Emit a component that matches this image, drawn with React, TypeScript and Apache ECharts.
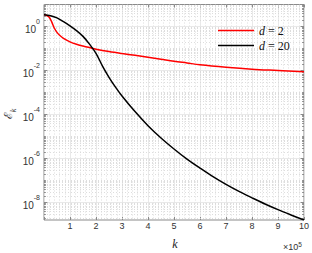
import React, { useEffect, useRef } from "react";
import * as echarts from "echarts";

// k in units of 1e5
const kBlack = [0, 0.25, 0.5, 0.75, 1, 1.25, 1.5, 1.75, 2, 2.25, 2.5, 2.75, 3, 3.5, 4, 4.5, 5, 5.5, 6, 6.5, 7, 7.5, 8, 8.5, 9, 9.5, 10];
const epsD20 = [3.39, 3.09, 2.45, 1.66, 1.07, 0.646, 0.355, 0.158, 0.0603, 0.0158, 0.0049, 0.00174, 6.9e-4, 1.35e-4, 3.09e-5, 8.5e-6, 2.69e-6, 9.3e-7, 3.63e-7, 1.48e-7, 6.6e-8, 3.16e-8, 1.62e-8, 8.5e-9, 4.68e-9, 2.69e-9, 1.58e-9];
const kRed = [0, 0.1, 0.2, 0.3, 0.4, 0.5, 0.6, 0.75, 1, 1.25, 1.5, 1.75, 2, 2.5, 3, 3.5, 4, 4.5, 5, 5.5, 6, 7, 8, 9, 10];
const epsD2 = [3.39, 3.16, 2.63, 1.58, 0.83, 0.537, 0.398, 0.288, 0.2, 0.155, 0.129, 0.11, 0.0933, 0.0724, 0.0589, 0.049, 0.0398, 0.0324, 0.0263, 0.0219, 0.0182, 0.0141, 0.0115, 0.01, 0.0087];
const seriesNames = ["d = 2", "d = 20"];
const xTicks = [1, 2, 3, 4, 5, 6, 7, 8, 9, 10];
const yMajor = [1, 1e-2, 1e-4, 1e-6, 1e-8];
const decades = [-9, -8, -7, -6, -5, -4, -3, -2, -1, 0];
const yMin = 1.585e-9;
const yMax = 10;

export default function App() {
  const ref = useRef<HTMLDivElement>(null);
  useEffect(() => {
    if (!ref.current) return;
    const chart = echarts.init(ref.current, null, { renderer: "svg" });

    const minorVals: number[] = [];
    decades.forEach((d) => {
      for (let m = 1; m <= 9; m++) {
        const v = m * Math.pow(10, d);
        if (v < yMin || v > yMax) continue;
        const isMajor = yMajor.some((x) => Math.abs(Math.log10(x) - Math.log10(v)) < 1e-6);
        if (!isMajor) minorVals.push(v);
      }
    });

    const gridLines: any[] = [];
    minorVals.forEach((v) =>
      gridLines.push({ yAxis: v, lineStyle: { color: "#d4d4d4", type: [1, 2], width: 0.8 } })
    );
    yMajor.forEach((v) =>
      gridLines.push({ yAxis: v, lineStyle: { color: "#e3e3e3", type: "solid", width: 0.8 } })
    );
    const tickStyle = { color: "#8a8a8a", width: 1, type: "solid" };
    const tk = (v: number, len: number) => {
      gridLines.push([{ coord: [0, v], lineStyle: tickStyle }, { coord: [len, v] }]);
      gridLines.push([{ coord: [10 - len, v], lineStyle: tickStyle }, { coord: [10, v] }]);
    };
    minorVals.forEach((v) => tk(v, 0.07));
    yMajor.forEach((v) => tk(v, 0.13));

    const option: any = {
      animation: false,
      grid: { left: 44, right: 7, top: 4.5, bottom: 33, show: true, borderColor: "#8a8a8a", borderWidth: 1, backgroundColor: "transparent" },
      legend: {
        data: seriesNames,
        orient: "vertical",
        left: 213,
        top: 18,
        itemWidth: 36,
        itemHeight: 1.5,
        itemGap: 0,
        icon: "rect",
        formatter: (n: string) => "{i|d} " + n.slice(2),
        textStyle: {
          fontFamily: "Liberation Serif",
          fontSize: 12,
          color: "#111",
          lineHeight: 15,
          rich: { i: { fontFamily: "Liberation Serif", fontStyle: "italic", fontSize: 12, color: "#111", lineHeight: 15 } },
        },
      },
      xAxis: [
        {
          type: "value",
          min: 0,
          max: 10,
          interval: 1,
          axisLine: { show: false },
          axisTick: { show: true, inside: true, length: 3, lineStyle: { color: "#8a8a8a" } },
          axisLabel: {
            formatter: (v: number) => (xTicks.includes(v) ? String(v) : ""),
            fontFamily: "Liberation Sans",
            fontSize: 9,
            color: "#333",
            margin: 1,
          },
          splitLine: { show: true, lineStyle: { color: "#e3e3e3", width: 0.8 } },
          minorTick: { show: false, splitNumber: 5 },
          minorSplitLine: { show: true, lineStyle: { color: "#d4d4d4", type: [1, 2], width: 0.8 } },
        },
        {
          type: "value",
          position: "top",
          min: 0,
          max: 10,
          interval: 1,
          axisLine: { show: false },
          axisTick: { show: true, inside: true, length: 3, lineStyle: { color: "#8a8a8a" } },
          axisLabel: { show: false },
          splitLine: { show: false },
        },
      ],
      yAxis: {
        type: "log",
        logBase: 10,
        min: yMin,
        max: yMax,
        axisLine: { show: false },
        axisTick: { show: false },
        splitLine: { show: false },
        axisLabel: {
          margin: 4,
          formatter: (v: number) => {
            const e = Math.log10(v);
            const r = Math.round(e);
            if (Math.abs(e - r) > 1e-6 || r % 2 !== 0 || r > 0) return "";
            return "{b|10}{s|" + r + "}";
          },
          rich: {
            b: { fontFamily: "Liberation Sans", fontSize: 10, color: "#333", lineHeight: 16, verticalAlign: "bottom" },
            s: { fontFamily: "Liberation Sans", fontSize: 7, color: "#333", lineHeight: 8, verticalAlign: "top" },
          },
        },
      },
      graphic: [
        {
          type: "text",
          x: 10,
          y: 114,
          rotation: Math.PI / 2,
          style: {
            text: "{e|ℰ}{k|k}",
            rich: {
              e: { fontFamily: "DejaVu Serif", fontSize: 11, fill: "#222", lineHeight: 14, verticalAlign: "top" },
              k: { fontFamily: "Liberation Serif", fontStyle: "italic", fontSize: 8, fill: "#222", lineHeight: 10, verticalAlign: "bottom" },
            },
            align: "center",
            verticalAlign: "middle",
          },
        },
        {
          type: "text",
          x: 175,
          y: 244,
          style: { text: "k", fontFamily: "Liberation Serif", fontStyle: "italic", fontSize: 12, fill: "#222", align: "center", verticalAlign: "middle" },
        },
        {
          type: "text",
          x: 283,
          y: 246,
          style: {
            text: "{b|×10}{s|5}",
            verticalAlign: "middle",
            rich: {
              b: { fontFamily: "Liberation Sans", fontSize: 9, fill: "#333", lineHeight: 11, verticalAlign: "bottom" },
              s: { fontFamily: "Liberation Sans", fontSize: 6.5, fill: "#333", lineHeight: 7, verticalAlign: "top" },
            },
          },
        },
      ],
      series: [
        {
          type: "line",
          name: "grid",
          data: [],
          silent: true,
          z: 1,
          markLine: {
            silent: true,
            z: 1,
            precision: 15,
            symbol: ["none", "none"],
            label: { show: false },
            animation: false,
            data: gridLines,
          },
        },
        {
          type: "line",
          name: seriesNames[0],
          data: kRed.map((k, i) => [k, epsD2[i]]),
          showSymbol: false,
          symbol: "none",
          smooth: 0.35,
          lineStyle: { color: "#ff0000", width: 1.5 },
          itemStyle: { color: "#ff0000" },
          z: 10,
        },
        {
          type: "line",
          name: seriesNames[1],
          data: kBlack.map((k, i) => [k, epsD20[i]]),
          showSymbol: false,
          symbol: "none",
          smooth: 0.35,
          lineStyle: { color: "#000000", width: 1.5 },
          itemStyle: { color: "#000000" },
          z: 11,
        },
      ],
    };
    chart.setOption(option);
    return () => chart.dispose();
  }, []);
  return <div ref={ref} style={{ width: 312, height: 253, position: "absolute", left: 0, top: 0, background: "#fff" }} />;
}
